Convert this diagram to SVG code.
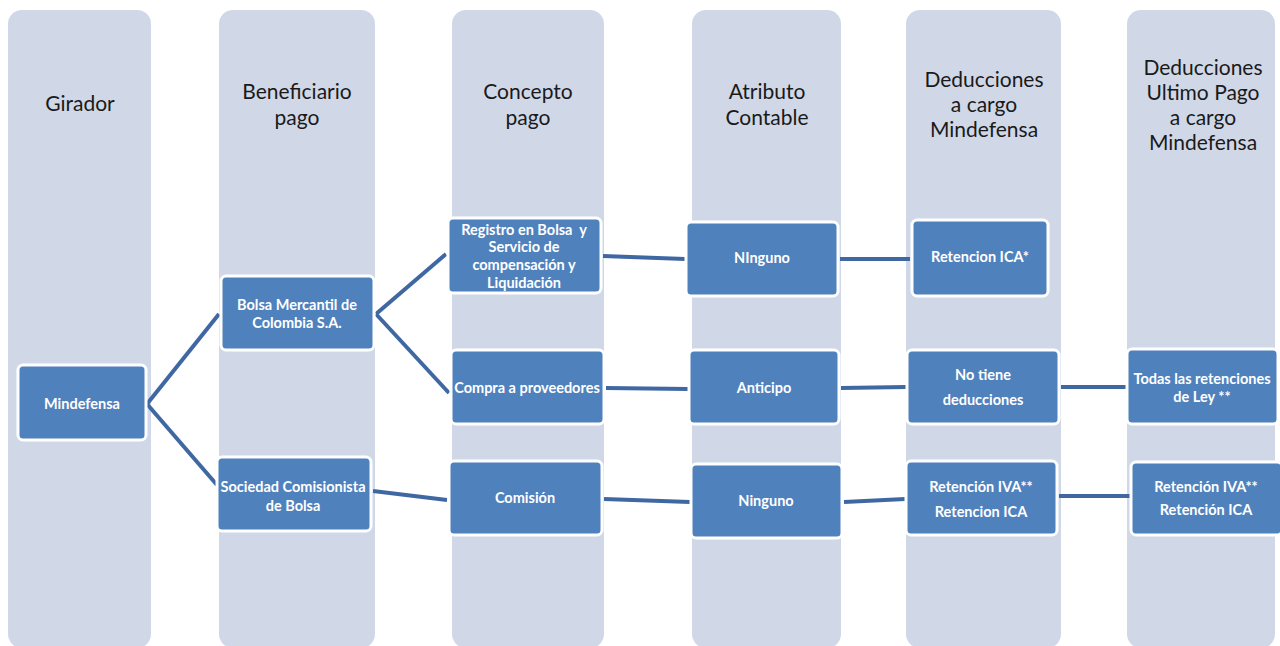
<svg xmlns="http://www.w3.org/2000/svg" width="1280" height="646" viewBox="0 0 1280 646">
<style>
.col{fill:#d0d8e8}
.hd{font-family:Lato,"Open Sans",sans-serif;font-size:21px;fill:#1a1a1a;text-anchor:middle}
.nd{fill:#4f81bd;stroke:#ffffff;stroke-width:3}
.nt{font-family:Lato,"Open Sans",sans-serif;font-size:14.5px;font-weight:bold;fill:#ffffff;text-anchor:middle}
.cn{stroke:#3f68a3;stroke-width:4;fill:none}
</style>
<rect width="1280" height="646" fill="#ffffff"/>
<g id="columns">
<rect class="col" x="8" y="10" width="143" height="638" rx="14"/>
<rect class="col" x="219" y="10" width="156" height="638" rx="14"/>
<rect class="col" x="452" y="10" width="152" height="638" rx="14"/>
<rect class="col" x="692" y="10" width="149" height="638" rx="14"/>
<rect class="col" x="906" y="10" width="155" height="638" rx="14"/>
<rect class="col" x="1127" y="10" width="148" height="638" rx="14"/>
<text class="hd" x="80" y="111">Girador</text>
<text class="hd" x="297" y="99">Beneficiario</text>
<text class="hd" x="297" y="125">pago</text>
<text class="hd" x="528" y="99">Concepto</text>
<text class="hd" x="528" y="125">pago</text>
<text class="hd" x="767" y="99">Atributo</text>
<text class="hd" x="767" y="125">Contable</text>
<text class="hd" x="984" y="87">Deducciones</text>
<text class="hd" x="984" y="112">a cargo</text>
<text class="hd" x="984" y="137">Mindefensa</text>
<text class="hd" x="1203" y="75">Deducciones</text>
<text class="hd" x="1203" y="100">Ultimo Pago</text>
<text class="hd" x="1203" y="125">a cargo</text>
<text class="hd" x="1203" y="150">Mindefensa</text>
</g>
<g id="connectors">
<line class="cn" x1="147" y1="404" x2="219" y2="314"/>
<line class="cn" x1="147" y1="404" x2="217" y2="485"/>
<line class="cn" x1="376" y1="314" x2="446" y2="254"/>
<line class="cn" x1="376" y1="314" x2="449" y2="393"/>
<line class="cn" x1="373" y1="491" x2="447" y2="500"/>
<line class="cn" x1="603" y1="256" x2="685" y2="259"/>
<line class="cn" x1="840" y1="259" x2="910" y2="259"/>
<line class="cn" x1="606" y1="388" x2="688" y2="389"/>
<line class="cn" x1="841" y1="388" x2="906" y2="387"/>
<line class="cn" x1="1061" y1="387" x2="1126" y2="387"/>
<line class="cn" x1="604" y1="499" x2="690" y2="502"/>
<line class="cn" x1="844" y1="502" x2="905" y2="499"/>
<line class="cn" x1="1059" y1="496" x2="1130" y2="496" stroke="#6e8db9"/>
</g>
<g id="n-mindefensa"><rect class="nd" x="18" y="365" width="128" height="75" rx="5"/><text class="nt" x="82" y="409">Mindefensa</text></g>
<g id="n-bolsa"><rect class="nd" x="221" y="276" width="153" height="74" rx="5"/><text class="nt" x="297" y="310">Bolsa Mercantil de</text><text class="nt" x="297" y="328">Colombia S.A.</text></g>
<g id="n-sociedad"><rect class="nd" x="217" y="457" width="154" height="74" rx="5"/><text class="nt" x="293" y="492">Sociedad Comisionista</text><text class="nt" x="293" y="511">de Bolsa</text></g>
<g id="n-registro"><rect class="nd" x="448" y="218" width="153" height="75" rx="5"/><text class="nt" x="524" y="235" xml:space="preserve">Registro en Bolsa  y</text><text class="nt" x="524" y="252">Servicio de</text><text class="nt" x="524" y="270">compensación y</text><text class="nt" x="524" y="288">Liquidación</text></g>
<g id="n-compra"><rect class="nd" x="451" y="350" width="153" height="74" rx="5"/><text class="nt" x="527" y="393">Compra a proveedores</text></g>
<g id="n-comision"><rect class="nd" x="449" y="461" width="153" height="74" rx="5"/><text class="nt" x="525" y="503">Comisión</text></g>
<g id="n-ninguno1"><rect class="nd" x="686" y="222" width="152" height="74" rx="5"/><text class="nt" x="762" y="263">NInguno</text></g>
<g id="n-anticipo"><rect class="nd" x="689" y="350" width="150" height="74" rx="5"/><text class="nt" x="764" y="393">Anticipo</text></g>
<g id="n-ninguno2"><rect class="nd" x="691" y="464" width="151" height="74" rx="5"/><text class="nt" x="766" y="506">Ninguno</text></g>
<g id="n-reticaa"><rect class="nd" x="912" y="220" width="136" height="76" rx="5"/><text class="nt" x="980" y="262">Retencion ICA*</text></g>
<g id="n-notiene"><rect class="nd" x="907" y="350" width="152" height="74" rx="5"/><text class="nt" x="983" y="380">No tiene</text><text class="nt" x="983" y="405">deducciones</text></g>
<g id="n-retiva1"><rect class="nd" x="906" y="461" width="151" height="74" rx="5"/><text class="nt" x="981" y="492">Retención IVA**</text><text class="nt" x="981" y="517">Retencion ICA</text></g>
<g id="n-todas"><rect class="nd" x="1127" y="349" width="151" height="75" rx="5"/><text class="nt" x="1202" y="384">Todas las retenciones</text><text class="nt" x="1202" y="402">de Ley **</text></g>
<g id="n-retiva2"><rect class="nd" x="1131" y="462" width="151" height="73" rx="5"/><text class="nt" x="1206" y="492">Retención IVA**</text><text class="nt" x="1206" y="515">Retención ICA</text></g>
</svg>
